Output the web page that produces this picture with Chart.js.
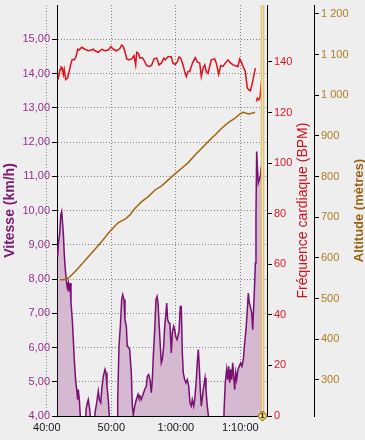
<!DOCTYPE html>
<html><head><meta charset="utf-8">
<script src="https://cdn.jsdelivr.net/npm/chart.js@4.4.1/dist/chart.umd.min.js"></script>
<style>html,body{margin:0;padding:0;background:#eeeeee;}canvas{display:block;}</style>
</head><body>
<canvas id="c" width="365" height="440"></canvas>
<script>
// ---- data (time in minutes) ----
const timeTicks  = [40, 50, 60, 70];
const speedTicks = [4, 5, 6, 7, 8, 9, 10, 11, 12, 13, 14, 15];
const hrTicks    = [0, 20, 40, 60, 80, 100, 120, 140];
const altTicks   = [300, 400, 500, 600, 700, 800, 900, 1000, 1100, 1200];

const speedTitle = 'Vitesse (km/h)';
const hrTitle    = 'Fréquence cardiaque (BPM)';
const altTitle   = 'Altitude (mètres)';

const speedTime = [
  41.69,41.78,42.00,42.16,42.31,42.40,42.56,42.71,42.87,43.02,
  43.18,43.33,43.44,43.60,43.75,43.95,44.11,44.26,44.48,44.64,
  44.79,44.88,45.04,45.19,45.35,45.95,
  46.08,46.28,46.43,46.65,46.74,46.85,47.35,
  47.47,47.74,47.98,48.14,48.36,48.51,48.76,49.02,49.18,49.33,49.53,49.69,49.80,50.90,
  50.99,51.19,51.40,51.61,51.77,51.97,52.12,52.33,52.48,52.59,
  52.85,53.10,53.26,53.41,53.63,53.88,54.14,54.29,54.45,54.65,
  54.91,55.18,55.43,55.58,55.80,56.00,56.20,56.36,56.51,56.73,
  56.93,57.09,57.24,57.40,57.60,57.75,57.91,58.12,58.28,58.43,
  58.59,58.74,58.95,59.10,59.30,59.46,59.67,59.83,59.98,60.19,
  60.34,60.50,60.70,60.85,61.01,61.16,61.38,61.58,61.78,62.00,
  62.20,62.40,62.56,62.78,62.93,63.18,63.33,63.49,63.64,63.80,
  63.95,64.26,64.53,64.68,64.88,65.04,65.15,67.35,
  67.47,67.67,67.89,68.05,68.20,68.36,68.51,68.67,68.82,68.98,
  69.13,69.29,69.44,69.64,69.84,70.06,70.26,70.47,70.68,70.88,
  71.09,71.24,71.40,71.55,71.77,71.92,72.08,72.23,72.33,72.43,
  72.54,72.64,72.79,72.95,73.10,73.26,73.36
];
const speedKmh = [
  8.66,9.00,9.34,9.87,9.97,9.73,9.34,8.71,8.27,7.98,
  7.74,7.88,7.64,7.88,7.30,6.81,6.23,5.65,5.01,4.77,
  4.48,4.77,4.48,4.00,3.0,3.0,
  4.19,4.38,4.48,4.19,4.00,3.0,3.0,
  4.10,4.39,4.72,4.48,4.39,4.77,5.16,5.36,5.26,4.87,4.48,4.00,3.0,3.0,
  4.48,6.03,6.62,7.40,7.54,7.40,6.81,6.62,6.03,6.03,
  5.94,5.26,4.29,4.04,4.29,4.48,4.63,4.53,4.58,4.48,
  4.63,4.77,4.87,5.16,5.21,5.06,4.68,5.06,5.74,6.52,
  7.40,7.49,7.30,6.72,6.03,5.55,5.65,6.03,6.62,6.91,
  7.30,6.81,6.72,6.67,5.84,6.43,6.62,6.52,6.33,6.23,
  6.23,6.47,7.20,7.20,5.84,5.26,5.06,4.97,5.06,4.87,
  4.38,4.29,4.48,4.29,4.48,5.06,5.55,5.94,5.45,4.77,
  4.29,4.77,5.11,4.77,4.29,4.04,3.0,3.0,
  4.10,4.97,5.36,5.06,5.45,4.97,5.36,5.06,5.55,5.16,
  4.77,5.26,5.06,5.36,5.45,5.55,5.45,5.65,6.13,6.52,
  7.10,7.59,7.30,7.20,7.01,6.52,7.20,7.88,8.47,9.83,
  11.72,11.28,10.80,10.90,10.99,11.28,11.38
];

const hrTime = [
  41.74,42.05,42.20,42.40,42.56,42.71,42.93,43.24,43.44,43.75,
  43.95,44.26,44.53,44.79,44.99,45.41,45.92,46.43,46.96,47.21,
  47.47,47.98,48.51,49.02,49.53,49.95,50.31,50.84,51.35,51.61,
  51.86,52.12,52.39,52.74,53.16,53.52,53.78,53.94,54.19,54.45,
  54.81,55.12,55.49,56.00,56.26,56.62,57.04,57.40,57.75,58.17,
  58.37,58.79,59.30,59.57,59.92,60.23,60.50,60.76,61.12,61.38,
  61.63,61.89,62.16,62.40,62.67,63.02,63.33,63.71,63.95,64.22,
  64.48,64.73,64.99,65.26,65.50,66.03,66.28,66.65,66.96,67.32,
  67.67,68.09,68.51,68.87,69.22,69.64,69.91,70.16,70.42,70.78,
  70.93,71.09,71.30,71.55,71.81,72.12,72.33,72.40,72.48,72.64,
  72.85,73.05,73.26,73.43
];
const hrBpm = [
  133,137,138,137.6,135,137,133,133.7,136,139.5,
  141,140.8,142,145,144.7,145.8,145,144.4,144.7,145,
  144.4,143.8,145,144.4,144.7,146,145,144.4,145.4,146.7,
  146,144,141.2,140.8,141.2,142.5,138.8,143.8,143.4,141.5,
  141.7,140.4,138.5,138.2,138.8,141.2,141.5,138.8,139.5,141.5,
  140.8,142,142,139.5,139,140,142,141.5,138.8,136.2,
  134.2,136.2,136.2,138.2,140,141.7,140,139.5,134.2,137.5,
  138.8,136.2,135.5,138.2,140.8,141.2,139.5,135.1,138.5,138.2,
  139.5,140.8,139.5,138.8,138.5,138.2,141.2,140,138.2,136.2,
  132.9,129.6,129,128.6,130.9,134.9,137.5,null,124.3,125.7,
  125,125.7,131.6,134
];

const altTime = [
  42.05,42.31,43.09,43.60,44.37,45.41,46.43,47.47,48.51,49.53,
  50.57,51.09,52.12,52.90,53.67,54.71,55.74,56.78,57.81,58.84,
  59.88,60.91,61.94,62.98,64.02,65.04,66.08,67.12,68.14,69.18,
  69.95,70.47,71.24,71.77,72.28
];
const altM = [
  546,546,547.6,554,566,584,603,621,640,660.7,
  678.6,686.8,695,705.7,722,738.4,750.7,767,777,791.8,
  806.5,820.5,834.3,853,869.7,886,902.4,918.9,932.7,943.5,
  954,958.2,954,955.8,958.2
];

const lapTime = 73.36;
const lapLabel = '1';

const xMin = 41.58, xMax = 74.14;
const speedMin = 4, speedMax = 16;
const hrMin = 0, hrMax = 162.5;
const altMin = 211, altMax = 1222;

// ---- helpers ----
const pts = (xs, ys) => xs.map((x, i) => ({x: x, y: ys[i]}));
function fmtTime(m) {
  if (m < 60) return m + ':00';
  return '1:' + String(m - 60).padStart(2, '0') + ':00';
}
function fmtAlt(v) {
  if (v >= 1000) return Math.floor(v / 1000) + ' ' + String(v % 1000).padStart(3, '0');
  return String(v);
}
const setTicks = arr => s => { s.ticks = arr.map(v => ({value: v})); };

Chart.defaults.font.family = "'Liberation Sans', Arial, sans-serif";
Chart.defaults.font.size = 11;

const bgPlugin = {
  id: 'bg',
  beforeDraw(chart) {
    const c = chart.ctx;
    c.save(); c.fillStyle = '#eeeeee'; c.fillRect(0, 0, chart.width, chart.height); c.restore();
  }
};

const lapPlugin = {
  id: 'lap',
  afterDatasetsDraw(chart) {
    const c = chart.ctx, ca = chart.chartArea;
    const x = Math.round(chart.scales.x.getPixelForValue(lapTime)) + 0.5;
    c.save();
    c.strokeStyle = '#d4b262'; c.lineWidth = 3.5;
    c.beginPath(); c.moveTo(x, ca.top); c.lineTo(x, ca.bottom); c.stroke();
    c.strokeStyle = '#f8e7ab'; c.lineWidth = 1.6;
    c.beginPath(); c.moveTo(x, ca.top); c.lineTo(x, ca.bottom); c.stroke();
    const y = ca.bottom, r = 5;
    c.beginPath(); c.moveTo(x, y - r); c.lineTo(x + r, y); c.lineTo(x, y + r); c.lineTo(x - r, y); c.closePath();
    c.fillStyle = '#f3d65a'; c.fill(); c.strokeStyle = '#6b5210'; c.lineWidth = 1; c.stroke();
    c.fillStyle = '#000'; c.font = "bold 7px 'Liberation Sans', Arial, sans-serif";
    c.textAlign = 'center'; c.textBaseline = 'middle';
    c.fillText(lapLabel, x, y + 0.5);
    c.restore();
  }
};

const rightTitles = {
  id: 'rightTitles',
  afterDraw(chart) {
    const c = chart.ctx, ca = chart.chartArea;
    const cy = (ca.top + ca.bottom) / 2;
    const defs = [
      ['yHr', hrTitle, '#d0121a', "14px 'Liberation Sans', Arial, sans-serif", 10.7],
      ['yAlt', altTitle, '#9a6512', "bold 13px 'Liberation Sans', Arial, sans-serif", 6]
    ];
    defs.forEach(([id, text, color, font, off]) => {
      const s = chart.scales[id];
      c.save();
      c.translate(s.right - off, cy);
      c.rotate(-Math.PI / 2);
      c.textAlign = 'center'; c.textBaseline = 'middle';
      c.fillStyle = color; c.font = font;
      c.fillText(text, 0, 0);
      c.restore();
    });
  }
};

new Chart(document.getElementById('c'), {
  type: 'line',
  data: {
    datasets: [
      { label: 'HR', data: pts(hrTime, hrBpm), yAxisID: 'yHr', borderColor: '#e0101c', borderWidth: 1.5,
        pointRadius: 0, tension: 0, fill: false, spanGaps: false },
      { label: 'Alt', data: pts(altTime, altM), yAxisID: 'yAlt', borderColor: '#a2640e', borderWidth: 1.5,
        pointRadius: 0, tension: 0, fill: false },
      { label: 'Speed', data: pts(speedTime, speedKmh), yAxisID: 'ySpeed', borderColor: '#7a0f72', borderWidth: 1.5,
        backgroundColor: '#d5b9d1', pointRadius: 0, tension: 0, fill: 'start', clip: 0 }
    ]
  },
  options: {
    responsive: false,
    animation: false,
    events: [],
    layout: { padding: { top: 5, left: 0, right: 0, bottom: 0 } },
    plugins: { legend: { display: false }, tooltip: { enabled: false } },
    scales: {
      x: {
        type: 'linear', min: xMin, max: xMax,
        afterBuildTicks: setTicks(timeTicks),
        afterFit: s => { s.height = 24; s.paddingLeft = 0; s.paddingRight = 0; },
        ticks: { autoSkip: false, maxRotation: 0, minRotation: 0, padding: 5, color: '#151520',
                 font: { size: 11 }, callback: v => fmtTime(v) },
        grid: { color: '#858585', drawTicks: false, lineWidth: 1 },
        border: { color: '#000', width: 1, dash: [1, 2] }
      },
      ySpeed: {
        type: 'linear', position: 'left', min: speedMin, max: speedMax,
        afterBuildTicks: setTicks(speedTicks),
        afterFit: s => { s.width = 57; s.paddingTop = 0; s.paddingBottom = 0; },
        ticks: { color: '#962e8d', padding: 2, font: { size: 11 },
                 callback: v => v.toFixed(2).replace('.', ',') },
        grid: { color: c => (c.tick && c.tick.value === speedMin) ? 'rgba(0,0,0,0)' : '#858585',
                tickColor: '#000', tickLength: 5, lineWidth: 1 },
        border: { color: '#000', width: 1, dash: [1, 2] },
        title: { display: true, text: speedTitle, color: '#7a1870',
                 font: { size: 14, weight: 'bold', lineHeight: 1.2 }, padding: { top: 2, bottom: 0 } }
      },
      yHr: {
        type: 'linear', position: 'right', weight: 1, min: hrMin, max: hrMax,
        afterBuildTicks: setTicks(hrTicks),
        afterFit: s => { s.width = 47; s.paddingTop = 0; s.paddingBottom = 0; },
        ticks: { color: '#e0141e', padding: 2, font: { size: 11 } },
        grid: { drawOnChartArea: false, color: '#000', tickColor: '#000', tickLength: 5 },
        border: { color: '#000', width: 1 }
      },
      yAlt: {
        type: 'linear', position: 'right', weight: 2, min: altMin, max: altMax,
        afterBuildTicks: setTicks(altTicks),
        afterFit: s => { s.width = 51; s.paddingTop = 0; s.paddingBottom = 0; },
        ticks: { color: '#b07c1e', padding: 2, font: { size: 11 }, callback: v => fmtAlt(v) },
        grid: { drawOnChartArea: false, color: '#000', tickColor: '#000', tickLength: 5 },
        border: { color: '#000', width: 1 }
      }
    }
  },
  plugins: [bgPlugin, lapPlugin, rightTitles]
});
</script>
</body></html>
